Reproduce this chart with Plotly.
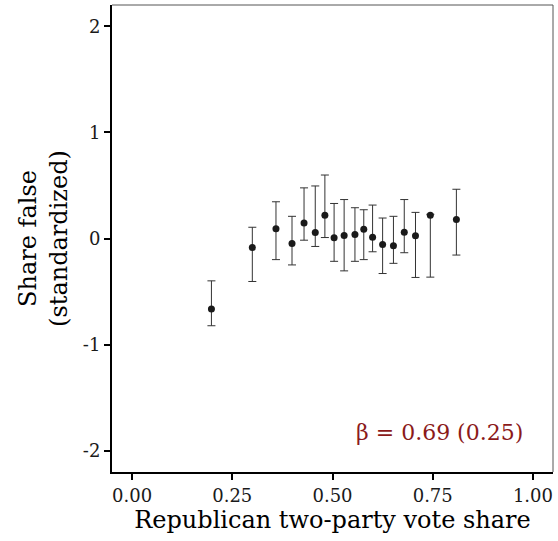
import plotly.graph_objects as go

vote_share = [0.198, 0.300, 0.359, 0.399, 0.429, 0.457, 0.481, 0.504, 0.529, 0.556,
              0.578, 0.600, 0.625, 0.652, 0.679, 0.707, 0.744, 0.809]
share_false = [-0.664, -0.084, 0.093, -0.047, 0.146, 0.056, 0.218, 0.006, 0.028, 0.037,
               0.087, 0.012, -0.056, -0.069, 0.059, 0.025, 0.218, 0.180]
ci_upper = [-0.399, 0.106, 0.346, 0.209, 0.477, 0.495, 0.598, 0.330, 0.367, 0.290,
            0.271, 0.315, 0.193, 0.209, 0.367, 0.246, 0.228, 0.464]
ci_lower = [-0.822, -0.405, -0.199, -0.249, -0.016, -0.075, 0.009, -0.215, -0.305, -0.215,
            -0.199, -0.125, -0.330, -0.234, -0.134, -0.367, -0.364, -0.156]

x_ticks = [0.0, 0.25, 0.5, 0.75, 1.0]
x_tick_labels = ["0.00", "0.25", "0.50", "0.75", "1.00"]
y_ticks = [-2, -1, 0, 1, 2]
y_tick_labels = ["-2", "-1", "0", "1", "2"]
annotation_text = "β = 0.69 (0.25)"

err_plus = [u - m for u, m in zip(ci_upper, share_false)]
err_minus = [m - l for m, l in zip(share_false, ci_lower)]

FONT = "DejaVu Serif"

fig = go.Figure()
fig.add_trace(go.Scatter(
    x=vote_share, y=share_false, mode="markers",
    marker=dict(color="#1a1a1a", size=7),
    error_y=dict(type="data", symmetric=False, array=err_plus, arrayminus=err_minus,
                 color="#333333", thickness=1, width=4),
    showlegend=False,
))

fig.add_annotation(x=0.98, y=-1.83, xref="x", yref="y", text=annotation_text,
                   showarrow=False, xanchor="right", yanchor="middle",
                   font=dict(family=FONT, size=22, color="#8B1A1A"))

# thin top/right border
fig.add_shape(type="line", xref="paper", yref="paper", x0=0, x1=1, y0=1, y1=1,
              line=dict(color="#555555", width=1))
fig.add_shape(type="line", xref="paper", yref="paper", x0=1, x1=1, y0=0, y1=1,
              line=dict(color="#555555", width=1))

fig.update_xaxes(range=[-0.05, 1.05], tickvals=x_ticks, ticktext=x_tick_labels,
                 showgrid=False, zeroline=False, showline=True, linecolor="black",
                 linewidth=2, ticks="outside", ticklen=6, tickwidth=2, tickcolor="black",
                 tickfont=dict(family=FONT, size=18, color="#1a1a1a"),
                 title=dict(text="Republican two-party vote share",
                            font=dict(family=FONT, size=24, color="black"), standoff=5))
fig.update_yaxes(range=[-2.2, 2.2], tickvals=y_ticks, ticktext=y_tick_labels,
                 showgrid=False, zeroline=False, showline=True, linecolor="black",
                 linewidth=2, ticks="outside", ticklen=6, tickwidth=2, tickcolor="black",
                 tickfont=dict(family=FONT, size=18, color="#1a1a1a"),
                 title=dict(text="Share false<br>(standardized)",
                            font=dict(family=FONT, size=24, color="black"), standoff=8))

fig.update_layout(width=558, height=541, margin=dict(l=112, r=5, t=5, b=69),
                  plot_bgcolor="white", paper_bgcolor="white")

fig.write_html("out.html", config={"displayModeBar": False},
               post_script="document.body.style.margin='0';")
